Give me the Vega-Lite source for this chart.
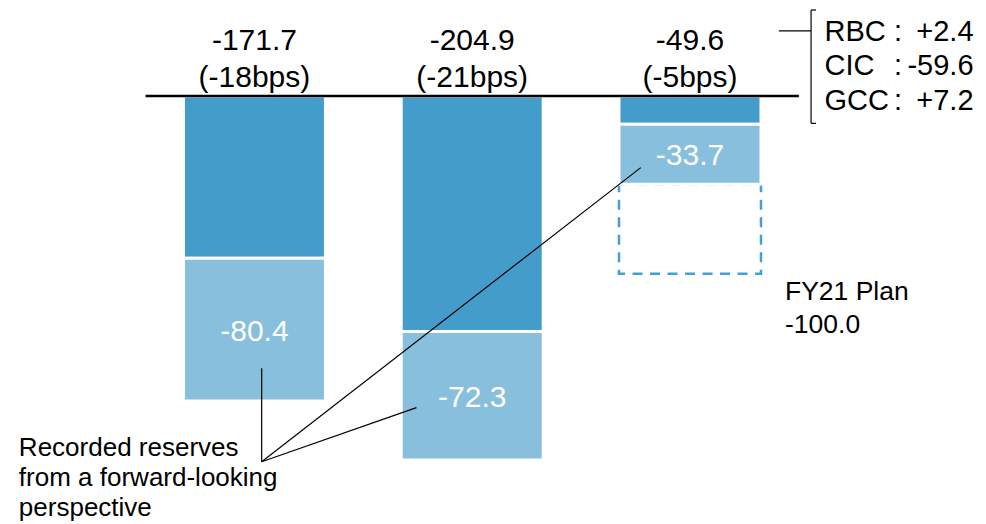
{
  "$schema": "https://vega.github.io/schema/vega-lite/v6.json",
  "width": 986,
  "height": 524,
  "autosize": {"type": "fit", "contains": "padding"},
  "padding": 0,
  "background": "white",
  "config": {
    "view": {"stroke": null},
    "text": {"font": "Liberation Sans", "color": "#000000"},
    "locale": {"number": {"decimal": ".", "thousands": ",", "grouping": [3], "currency": ["$", ""], "minus": "-"}}
  },
  "datasets": {
    "segments": [
      {"col": 1, "part": "Other credit costs", "value": -91.3},
      {"col": 1, "part": "Forward-looking reserves", "value": -80.4},
      {"col": 2, "part": "Other credit costs", "value": -132.6},
      {"col": 2, "part": "Forward-looking reserves", "value": -72.3},
      {"col": 3, "part": "Other credit costs", "value": -15.9},
      {"col": 3, "part": "Forward-looking reserves", "value": -33.7}
    ],
    "bps": [
      {"col": 1, "bps": "(-18bps)"},
      {"col": 2, "bps": "(-21bps)"},
      {"col": 3, "bps": "(-5bps)"}
    ],
    "plan": [{"col": 3, "name": "FY21 Plan", "actual": -49.6, "plan": -100.0}],
    "breakdown": [
      {"unit": "RBC", "delta": 2.4, "line": 0},
      {"unit": "CIC", "delta": -59.6, "line": 1},
      {"unit": "GCC", "delta": 7.2, "line": 2}
    ],
    "note": [{"text": "Recorded reserves\nfrom a forward-looking\nperspective"}],
    "single": [{}]
  },
  "layer": [
    {
      "data": {"name": "plan"},
      "mark": {"type": "bar", "width": 142, "fillOpacity": 0, "stroke": "#45A0D2", "strokeWidth": 2.5, "strokeDash": [10, 7.5]},
      "encoding": {
        "x": {"field": "col", "type": "quantitative", "scale": {"domain": [-0.14545, 4.33636], "nice": false, "zero": false}, "axis": null},
        "y": {"field": "actual", "type": "quantitative", "scale": {"domain": [-240.86, 54.02], "nice": false, "zero": false}, "axis": null},
        "y2": {"field": "plan"}
      }
    },
    {
      "data": {"name": "segments"},
      "mark": {"type": "bar", "width": 142, "stroke": "white", "strokeWidth": 3},
      "encoding": {
        "x": {"field": "col", "type": "quantitative", "scale": {"domain": [-0.14545, 4.33636], "nice": false, "zero": false}, "axis": null},
        "y": {"field": "value", "type": "quantitative", "stack": "zero", "scale": {"domain": [-240.86, 54.02], "nice": false, "zero": false}, "axis": null},
        "order": {"field": "part", "sort": "descending"},
        "color": {"field": "part", "type": "nominal", "scale": {"domain": ["Other credit costs", "Forward-looking reserves"], "range": ["#439CC9", "#87BFDC"]}, "legend": null}
      }
    },
    {
      "data": {"name": "segments"},
      "mark": {"type": "text", "fontSize": 30, "color": "white", "baseline": "middle", "align": "center", "dy": 2},
      "encoding": {
        "x": {"field": "col", "type": "quantitative", "scale": {"domain": [-0.14545, 4.33636], "nice": false, "zero": false}, "axis": null},
        "y": {"field": "value", "type": "quantitative", "stack": "zero", "bandPosition": 0.5, "scale": {"domain": [-240.86, 54.02], "nice": false, "zero": false}, "axis": null},
        "order": {"field": "part", "sort": "descending"},
        "detail": {"field": "part", "type": "nominal"},
        "text": {"condition": {"test": "datum.part === 'Other credit costs'", "value": ""}, "field": "value", "type": "quantitative", "format": ".1f"}
      }
    },
    {
      "data": {"name": "single"},
      "mark": {"type": "rule", "color": "#000000", "strokeWidth": 2.5},
      "encoding": {
        "x": {"datum": 0.5, "type": "quantitative", "scale": {"domain": [-0.14545, 4.33636], "nice": false, "zero": false}, "axis": null},
        "x2": {"datum": 3.5},
        "y": {"datum": 0, "type": "quantitative", "scale": {"domain": [-240.86, 54.02], "nice": false, "zero": false}, "axis": null}
      }
    },
    {
      "data": {"name": "segments"},
      "transform": [{"aggregate": [{"op": "sum", "field": "value", "as": "total"}], "groupby": ["col"]}],
      "mark": {"type": "text", "fontSize": 30, "baseline": "alphabetic", "align": "center", "dy": -46},
      "encoding": {
        "x": {"field": "col", "type": "quantitative", "scale": {"domain": [-0.14545, 4.33636], "nice": false, "zero": false}, "axis": null},
        "y": {"datum": 0, "type": "quantitative", "scale": {"domain": [-240.86, 54.02], "nice": false, "zero": false}, "axis": null},
        "text": {"field": "total", "type": "quantitative", "format": ".1f"}
      }
    },
    {
      "data": {"name": "bps"},
      "mark": {"type": "text", "fontSize": 30, "baseline": "alphabetic", "align": "center", "dy": -9},
      "encoding": {
        "x": {"field": "col", "type": "quantitative", "scale": {"domain": [-0.14545, 4.33636], "nice": false, "zero": false}, "axis": null},
        "y": {"datum": 0, "type": "quantitative", "scale": {"domain": [-240.86, 54.02], "nice": false, "zero": false}, "axis": null},
        "text": {"field": "bps", "type": "nominal"}
      }
    },
    {
      "data": {"name": "single"},
      "mark": {"type": "rule", "color": "#000000", "strokeWidth": 1.2},
      "encoding": {
        "x": {"datum": 1.0332, "type": "quantitative", "scale": {"domain": [-0.14545, 4.33636], "nice": false, "zero": false}, "axis": null},
        "x2": {"datum": 1.0332},
        "y": {"datum": -205.8, "type": "quantitative", "scale": {"domain": [-240.86, 54.02], "nice": false, "zero": false}, "axis": null},
        "y2": {"datum": -153.2}
      }
    },
    {
      "data": {"name": "single"},
      "mark": {"type": "rule", "color": "#000000", "strokeWidth": 1.2},
      "encoding": {
        "x": {"datum": 1.0332, "type": "quantitative", "scale": {"domain": [-0.14545, 4.33636], "nice": false, "zero": false}, "axis": null},
        "x2": {"datum": 1.744},
        "y": {"datum": -205.8, "type": "quantitative", "scale": {"domain": [-240.86, 54.02], "nice": false, "zero": false}, "axis": null},
        "y2": {"datum": -175.4}
      }
    },
    {
      "data": {"name": "single"},
      "mark": {"type": "rule", "color": "#000000", "strokeWidth": 1.2},
      "encoding": {
        "x": {"datum": 1.0332, "type": "quantitative", "scale": {"domain": [-0.14545, 4.33636], "nice": false, "zero": false}, "axis": null},
        "x2": {"datum": 2.774},
        "y": {"datum": -205.8, "type": "quantitative", "scale": {"domain": [-240.86, 54.02], "nice": false, "zero": false}, "axis": null},
        "y2": {"datum": -40.3}
      }
    },
    {
      "data": {"name": "note"},
      "mark": {"type": "text", "fontSize": 26, "baseline": "alphabetic", "align": "left", "lineBreak": "\n", "lineHeight": 30},
      "encoding": {
        "x": {"datum": -0.0818, "type": "quantitative", "scale": {"domain": [-0.14545, 4.33636], "nice": false, "zero": false}, "axis": null},
        "y": {"datum": -202.6, "type": "quantitative", "scale": {"domain": [-240.86, 54.02], "nice": false, "zero": false}, "axis": null},
        "text": {"field": "text", "type": "nominal"}
      }
    },
    {
      "data": {"name": "plan"},
      "mark": {"type": "text", "fontSize": 26.5, "baseline": "alphabetic", "align": "left", "dx": 95, "dy": 26},
      "encoding": {
        "x": {"field": "col", "type": "quantitative", "scale": {"domain": [-0.14545, 4.33636], "nice": false, "zero": false}, "axis": null},
        "y": {"field": "plan", "type": "quantitative", "scale": {"domain": [-240.86, 54.02], "nice": false, "zero": false}, "axis": null},
        "text": {"field": "name", "type": "nominal"}
      }
    },
    {
      "data": {"name": "plan"},
      "mark": {"type": "text", "fontSize": 26.5, "baseline": "alphabetic", "align": "left", "dx": 95, "dy": 59},
      "encoding": {
        "x": {"field": "col", "type": "quantitative", "scale": {"domain": [-0.14545, 4.33636], "nice": false, "zero": false}, "axis": null},
        "y": {"field": "plan", "type": "quantitative", "scale": {"domain": [-240.86, 54.02], "nice": false, "zero": false}, "axis": null},
        "text": {"field": "plan", "type": "quantitative", "format": ".1f"}
      }
    },
    {
      "data": {"name": "single"},
      "mark": {"type": "rule", "color": "#000000", "strokeWidth": 1.2},
      "encoding": {
        "x": {"datum": 3.408, "type": "quantitative", "scale": {"domain": [-0.14545, 4.33636], "nice": false, "zero": false}, "axis": null},
        "x2": {"datum": 3.556},
        "y": {"datum": 36.6, "type": "quantitative", "scale": {"domain": [-240.86, 54.02], "nice": false, "zero": false}, "axis": null}
      }
    },
    {
      "data": {"name": "single"},
      "mark": {"type": "rule", "color": "#000000", "strokeWidth": 1.2},
      "encoding": {
        "x": {"datum": 3.556, "type": "quantitative", "scale": {"domain": [-0.14545, 4.33636], "nice": false, "zero": false}, "axis": null},
        "y": {"datum": 48.4, "type": "quantitative", "scale": {"domain": [-240.86, 54.02], "nice": false, "zero": false}, "axis": null},
        "y2": {"datum": -15.4}
      }
    },
    {
      "data": {"name": "single"},
      "mark": {"type": "rule", "color": "#000000", "strokeWidth": 1.2},
      "encoding": {
        "x": {"datum": 3.556, "type": "quantitative", "scale": {"domain": [-0.14545, 4.33636], "nice": false, "zero": false}, "axis": null},
        "x2": {"datum": 3.579},
        "y": {"datum": 48.4, "type": "quantitative", "scale": {"domain": [-240.86, 54.02], "nice": false, "zero": false}, "axis": null}
      }
    },
    {
      "data": {"name": "single"},
      "mark": {"type": "rule", "color": "#000000", "strokeWidth": 1.2},
      "encoding": {
        "x": {"datum": 3.556, "type": "quantitative", "scale": {"domain": [-0.14545, 4.33636], "nice": false, "zero": false}, "axis": null},
        "x2": {"datum": 3.579},
        "y": {"datum": -15.4, "type": "quantitative", "scale": {"domain": [-240.86, 54.02], "nice": false, "zero": false}, "axis": null}
      }
    },
    {
      "data": {"name": "breakdown"},
      "mark": {"type": "text", "fontSize": 29, "baseline": "alphabetic", "align": "left", "dy": {"expr": "datum.line * 34.5"}},
      "encoding": {
        "x": {"datum": 3.618, "type": "quantitative", "scale": {"domain": [-0.14545, 4.33636], "nice": false, "zero": false}, "axis": null},
        "y": {"datum": 31.1, "type": "quantitative", "scale": {"domain": [-240.86, 54.02], "nice": false, "zero": false}, "axis": null},
        "text": {"field": "unit", "type": "nominal"}
      }
    },
    {
      "data": {"name": "breakdown"},
      "mark": {"type": "text", "fontSize": 29, "baseline": "alphabetic", "align": "center", "text": ":", "dy": {"expr": "datum.line * 34.5"}},
      "encoding": {
        "x": {"datum": 3.955, "type": "quantitative", "scale": {"domain": [-0.14545, 4.33636], "nice": false, "zero": false}, "axis": null},
        "y": {"datum": 31.1, "type": "quantitative", "scale": {"domain": [-240.86, 54.02], "nice": false, "zero": false}, "axis": null}
      }
    },
    {
      "data": {"name": "breakdown"},
      "mark": {"type": "text", "fontSize": 29, "baseline": "alphabetic", "align": "right", "dy": {"expr": "datum.line * 34.5"}},
      "encoding": {
        "x": {"datum": 4.302, "type": "quantitative", "scale": {"domain": [-0.14545, 4.33636], "nice": false, "zero": false}, "axis": null},
        "y": {"datum": 31.1, "type": "quantitative", "scale": {"domain": [-240.86, 54.02], "nice": false, "zero": false}, "axis": null},
        "text": {"field": "delta", "type": "quantitative", "format": "+.1f"}
      }
    }
  ]
}
